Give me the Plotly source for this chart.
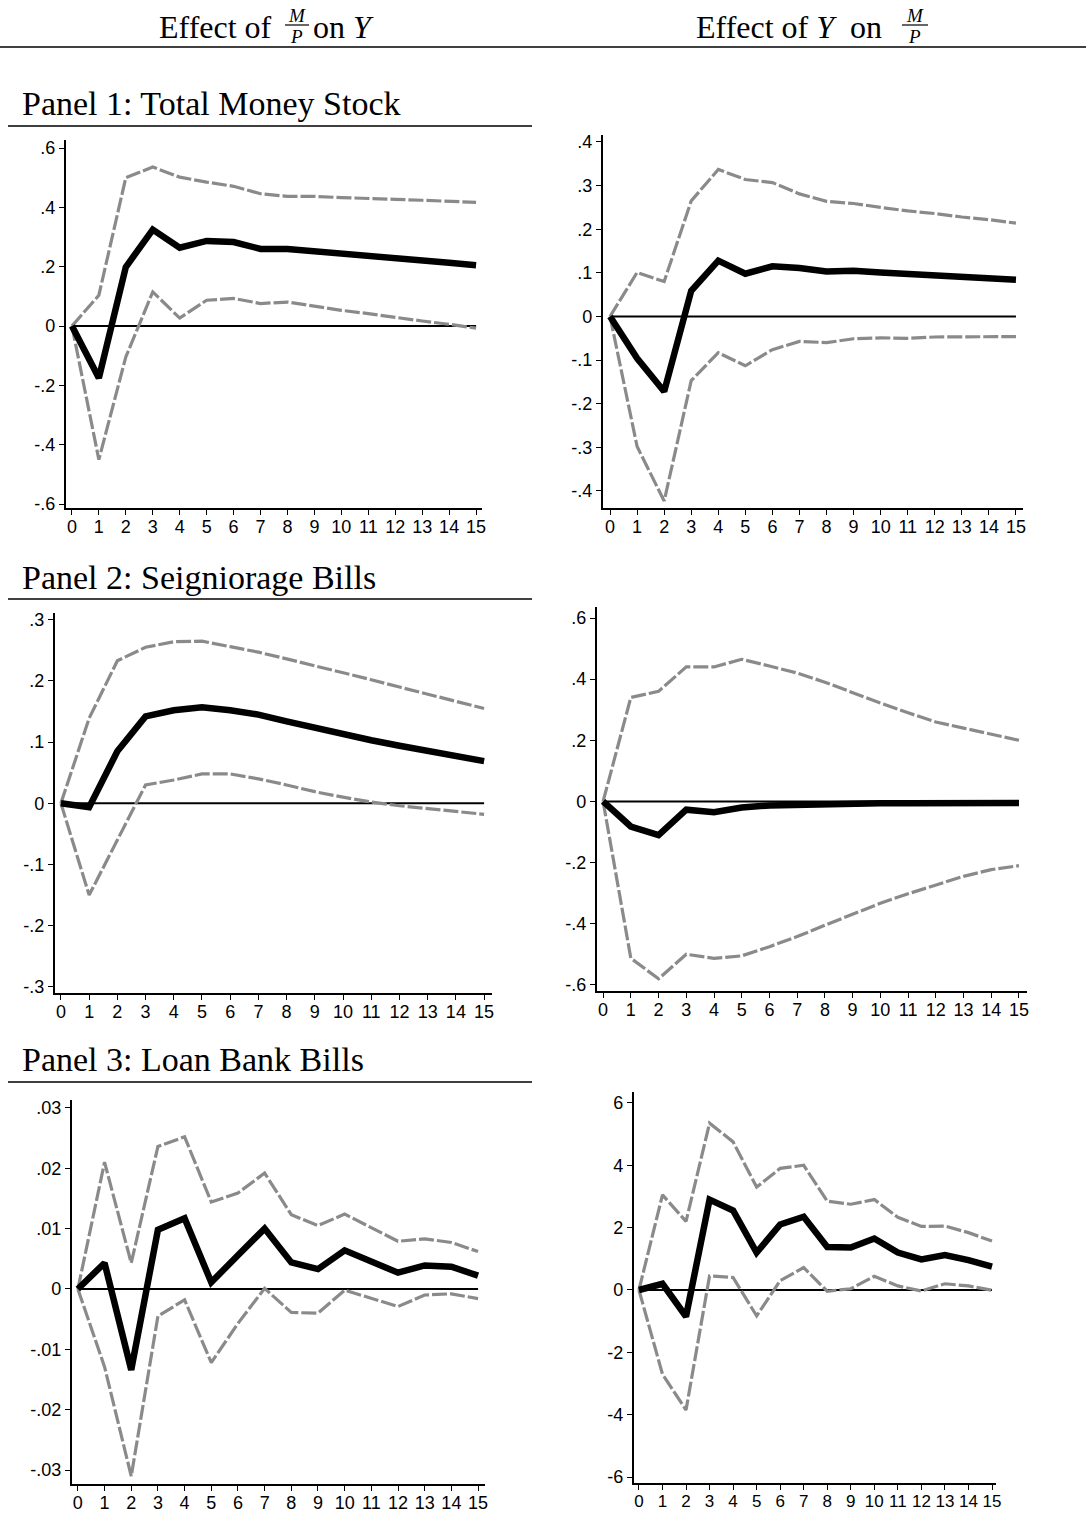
import plotly.graph_objects as go

W, H = 1086, 1515

# ---------------- data ----------------
horizon = list(range(16))

# Panel 1: Total Money Stock
p1_my_irf = [0, -0.175, 0.199, 0.325, 0.264, 0.287, 0.283, 0.260, 0.260, 0.253, 0.242, 0.235, 0.228, 0.221, 0.213, 0.205]
p1_my_hi = [0, 0.104, 0.500, 0.536, 0.502, 0.485, 0.471, 0.446, 0.437, 0.437, 0.433, 0.429, 0.427, 0.424, 0.420, 0.417]
p1_my_lo = [0, -0.450, -0.104, 0.115, 0.027, 0.087, 0.093, 0.076, 0.081, 0.067, 0.053, 0.042, 0.029, 0.017, 0.006, -0.007]

p1_ym_irf = [0, -0.096, -0.172, 0.059, 0.128, 0.098, 0.115, 0.111, 0.103, 0.105, 0.101, 0.097, 0.095, 0.092, 0.088, 0.084]
p1_ym_hi = [0, 0.101, 0.080, 0.265, 0.337, 0.314, 0.307, 0.281, 0.264, 0.259, 0.250, 0.242, 0.236, 0.228, 0.222, 0.214]
p1_ym_lo = [0, -0.298, -0.423, -0.147, -0.083, -0.113, -0.076, -0.057, -0.060, -0.051, -0.049, -0.050, -0.047, -0.047, -0.047, -0.046]

# Panel 2: Seigniorage Bills
p2_my_irf = [0, -0.0065, 0.085, 0.142, 0.152, 0.157, 0.152, 0.145, 0.134, 0.123, 0.112, 0.103, 0.094, 0.086, 0.078, 0.069]
p2_my_hi = [0, 0.139, 0.233, 0.255, 0.264, 0.265, 0.256, 0.247, 0.236, 0.225, 0.214, 0.202, 0.190, 0.178, 0.166, 0.155]
p2_my_lo = [0, -0.150, -0.060, 0.030, 0.038, 0.048, 0.048, 0.040, 0.030, 0.019, 0.010, 0.002, -0.004, -0.009, -0.014, -0.018]

p2_ym_irf = [0, -0.082, -0.110, -0.027, -0.035, -0.020, -0.013, -0.010, -0.008, -0.007, -0.006, -0.006, -0.005, -0.005, -0.005, -0.005]
p2_ym_hi = [0, 0.340, 0.360, 0.440, 0.440, 0.465, 0.443, 0.420, 0.390, 0.355, 0.322, 0.290, 0.260, 0.240, 0.220, 0.200]
p2_ym_lo = [0, -0.513, -0.580, -0.500, -0.513, -0.505, -0.475, -0.442, -0.405, -0.370, -0.333, -0.302, -0.273, -0.245, -0.223, -0.210]

# Panel 3: Loan Bank Bills
p3_my_irf = [0, 0.0043, -0.0134, 0.0098, 0.0117, 0.0011, 0.0056, 0.0100, 0.0044, 0.0033, 0.0064, 0.0046, 0.0027, 0.0039, 0.0037, 0.0022]
p3_my_hi = [0, 0.0210, 0.0043, 0.0236, 0.0252, 0.0144, 0.0159, 0.0192, 0.0123, 0.0105, 0.0124, 0.0101, 0.0079, 0.0083, 0.0077, 0.0062]
p3_my_lo = [0, -0.0129, -0.0310, -0.0045, -0.0018, -0.0122, -0.0057, 0.0001, -0.0039, -0.0040, -0.0002, -0.0015, -0.0029, -0.0010, -0.0008, -0.0016]

p3_ym_irf = [0, 0.20, -0.85, 2.90, 2.55, 1.20, 2.10, 2.35, 1.38, 1.36, 1.65, 1.20, 0.98, 1.12, 0.96, 0.75]
p3_ym_hi = [0, 3.05, 2.20, 5.35, 4.75, 3.30, 3.90, 4.00, 2.85, 2.75, 2.90, 2.33, 2.04, 2.05, 1.84, 1.57]
p3_ym_lo = [0, -2.70, -3.85, 0.45, 0.40, -0.83, 0.30, 0.72, -0.04, 0.04, 0.44, 0.13, -0.03, 0.20, 0.13, -0.01]

# tick labels
x_ticks = horizon
y1l_vals = [-0.6, -0.4, -0.2, 0, 0.2, 0.4, 0.6]
y1l_text = ["-.6", "-.4", "-.2", "0", ".2", ".4", ".6"]
y1r_vals = [-0.4, -0.3, -0.2, -0.1, 0, 0.1, 0.2, 0.3, 0.4]
y1r_text = ["-.4", "-.3", "-.2", "-.1", "0", ".1", ".2", ".3", ".4"]
y2l_vals = [-0.3, -0.2, -0.1, 0, 0.1, 0.2, 0.3]
y2l_text = ["-.3", "-.2", "-.1", "0", ".1", ".2", ".3"]
y2r_vals = [-0.6, -0.4, -0.2, 0, 0.2, 0.4, 0.6]
y2r_text = ["-.6", "-.4", "-.2", "0", ".2", ".4", ".6"]
y3l_vals = [-0.03, -0.02, -0.01, 0, 0.01, 0.02, 0.03]
y3l_text = ["-.03", "-.02", "-.01", "0", ".01", ".02", ".03"]
y3r_vals = [-6, -4, -2, 0, 2, 4, 6]
y3r_text = ["-6", "-4", "-2", "0", "2", "4", "6"]

panel_titles = ["Panel 1: Total Money Stock", "Panel 2: Seigniorage Bills", "Panel 3: Loan Bank Bills"]

# ---------------- layout config ----------------
SANS = "Liberation Sans, Arial, sans-serif"
SERIF = "Liberation Serif, Times New Roman, serif"

# (left, right, top, bottom) pixel boxes and axis ranges
panels = [
    dict(box=(66, 482, 140, 508), xr=(-0.22, 15.22), yr=(-0.613, 0.627),
         irf=p1_my_irf, hi=p1_my_hi, lo=p1_my_lo, yv=y1l_vals, yt=y1l_text, fs=18, xfs=18),
    dict(box=(603, 1023, 135, 508), xr=(-0.26, 15.26), yr=(-0.439, 0.416),
         irf=p1_ym_irf, hi=p1_ym_hi, lo=p1_ym_lo, yv=y1r_vals, yt=y1r_text, fs=18, xfs=18),
    dict(box=(55, 492, 613, 993), xr=(-0.21, 15.28), yr=(-0.31, 0.311),
         irf=p2_my_irf, hi=p2_my_hi, lo=p2_my_lo, yv=y2l_vals, yt=y2l_text, fs=18, xfs=18),
    dict(box=(597, 1027, 607, 991), xr=(-0.22, 15.29), yr=(-0.62, 0.636),
         irf=p2_ym_irf, hi=p2_ym_hi, lo=p2_ym_lo, yv=y2r_vals, yt=y2r_text, fs=18, xfs=18),
    dict(box=(72, 485, 1100, 1484), xr=(-0.22, 15.26), yr=(-0.0323, 0.0313),
         irf=p3_my_irf, hi=p3_my_hi, lo=p3_my_lo, yv=y3l_vals, yt=y3l_text, fs=18, xfs=18),
    dict(box=(634, 996, 1092, 1483), xr=(-0.21, 15.17), yr=(-6.19, 6.35),
         irf=p3_ym_irf, hi=p3_ym_hi, lo=p3_ym_lo, yv=y3r_vals, yt=y3r_text, fs=18, xfs=17),
]

def fx(px):
    return px / W

def fy(py):
    return 1 - py / H

fig = go.Figure()
layout = {}
GRAY = "#8a8a8a"

for i, p in enumerate(panels, start=1):
    sfx = "" if i == 1 else str(i)
    xa, ya = "x" + sfx, "y" + sfx
    zeros = [0 for _ in horizon]
    fig.add_trace(go.Scatter(x=horizon, y=zeros, mode="lines", xaxis=xa, yaxis=ya,
                             line=dict(color="black", width=2), hoverinfo="skip", showlegend=False))
    fig.add_trace(go.Scatter(x=horizon, y=p["hi"], mode="lines", xaxis=xa, yaxis=ya,
                             line=dict(color=GRAY, width=3.2, dash="15px,3px"), showlegend=False))
    fig.add_trace(go.Scatter(x=horizon, y=p["lo"], mode="lines", xaxis=xa, yaxis=ya,
                             line=dict(color=GRAY, width=3.2, dash="15px,3px"), showlegend=False))
    fig.add_trace(go.Scatter(x=horizon, y=p["irf"], mode="lines", xaxis=xa, yaxis=ya,
                             line=dict(color="black", width=6.5), showlegend=False))
    l, r, t, b = p["box"]
    layout["xaxis" + sfx] = dict(
        domain=[fx(l), fx(r)], range=list(p["xr"]), anchor=ya, automargin=False,
        tickmode="array", tickvals=x_ticks, ticktext=[str(v) for v in x_ticks], tickangle=0,
        showline=True, linecolor="black", linewidth=2.2, ticks="outside", ticklen=5,
        tickwidth=1.3, tickcolor="black", showgrid=False, zeroline=False,
        ticklabelstandoff=-4,
        tickfont=dict(family=SANS, size=p["xfs"], color="black"),
    )
    layout["yaxis" + sfx] = dict(
        domain=[fy(b), fy(t)], range=list(p["yr"]), anchor=xa, automargin=False,
        tickmode="array", tickvals=p["yv"], ticktext=p["yt"],
        showline=True, linecolor="black", linewidth=2.2, ticks="outside", ticklen=5,
        tickwidth=1.3, tickcolor="black", showgrid=False, zeroline=False,
        tickfont=dict(family=SANS, size=p["fs"], color="black"),
    )

annotations = []
shapes = []

def ann(text, x, y, size, xanchor="left", italic=False):
    annotations.append(dict(
        text=text, x=fx(x), y=fy(y), xref="paper", yref="paper",
        xanchor=xanchor, yanchor="middle", showarrow=False,
        font=dict(family=SERIF, size=size, color="black",
                  style="italic" if italic else "normal"),
    ))

def hline(x0, x1, y, w=1.5):
    shapes.append(dict(type="line", xref="paper", yref="paper",
                       x0=fx(x0), x1=fx(x1), y0=fy(y), y1=fy(y),
                       line=dict(color="black", width=w)))

# column headers
ann("Effect of", 274, 27, 32, xanchor="right")
ann("M", 297, 15, 19, xanchor="center", italic=True)
hline(285, 309, 25, 1.2)
ann("P", 296, 36, 19, xanchor="center", italic=True)
ann("on <i>Y</i>", 311, 27, 32, xanchor="left")

ann("Effect of <i>Y</i>  on", 694, 27, 32, xanchor="left")
ann("M", 915, 15, 19, xanchor="center", italic=True)
hline(902, 928, 25, 1.2)
ann("P", 914, 36, 19, xanchor="center", italic=True)

hline(0, 1086, 47, 1.6)

# panel titles
for title, ty, uy in zip(panel_titles, [103, 577, 1059], [126, 599, 1082]):
    ann(title, 20, ty, 34, xanchor="left")
    hline(8, 532, uy, 1.5)

fig.update_layout(
    width=W, height=H, margin=dict(l=0, r=0, t=0, b=0, autoexpand=False),
    paper_bgcolor="white", plot_bgcolor="white",
    showlegend=False, annotations=annotations, shapes=shapes,
    **layout,
)

fig.write_html("out.html", config={"displayModeBar": False},
               post_script="document.body.style.margin='0px';document.body.style.padding='0px';")
